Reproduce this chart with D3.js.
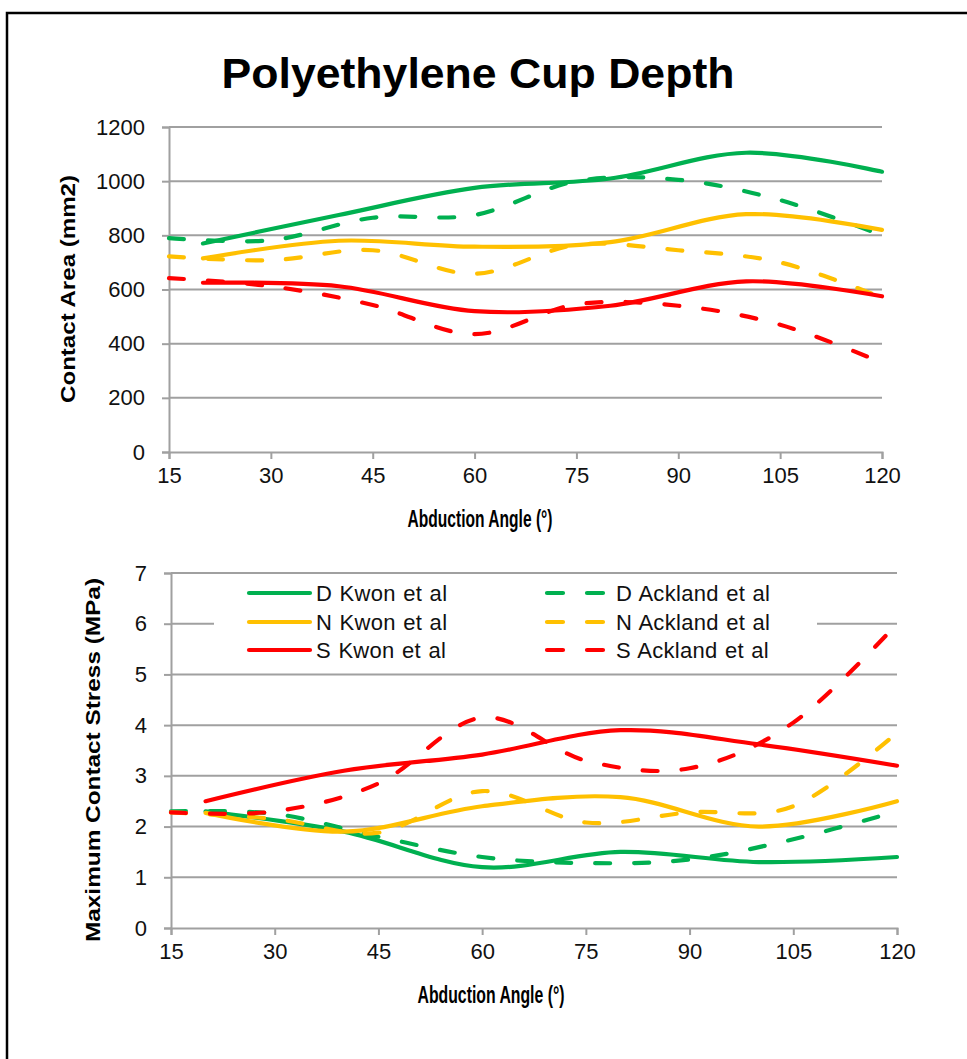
<!DOCTYPE html>
<html><head><meta charset="utf-8">
<script src="https://cdn.jsdelivr.net/npm/d3@7"></script>
<style>body{margin:0;background:#fff;overflow:hidden}</style>
</head><body>
<svg id="c" width="967" height="1059"></svg>
<script>
// ---- data ----
const xTicks = [15, 30, 45, 60, 75, 90, 105, 120];
const areaTicks = [0, 200, 400, 600, 800, 1000, 1200];
const stressTicks = [0, 1, 2, 3, 4, 5, 6, 7];
const kwonAngles = [20, 40, 60, 80, 100, 120];
const acklandAngles = [15, 30, 45, 60, 75, 90, 105, 120];

const areaDKwon = [770, 875, 975, 1010, 1105, 1035];
const areaDAckland = [790, 782, 865, 875, 1000, 1005, 930, 800];
const areaNKwon = [715, 780, 758, 775, 878, 820];
const areaNAckland = [722, 708, 745, 658, 765, 745, 700, 570];
const areaSKwon = [625, 612, 520, 540, 630, 575];
const areaSAckland = [642, 612, 543, 435, 545, 540, 470, 330];

const stressDKwon = [2.3, 1.9, 1.2, 1.5, 1.3, 1.4];
const stressDAckland = [2.3, 2.25, 1.8, 1.4, 1.28, 1.35, 1.75, 2.3];
const stressNKwon = [2.27, 1.9, 2.4, 2.58, 2.0, 2.5];
const stressNAckland = [2.28, 2.15, 1.88, 2.7, 2.08, 2.28, 2.4, 3.85];
const stressSKwon = [2.5, 3.1, 3.42, 3.9, 3.62, 3.2];
const stressSAckland = [2.28, 2.3, 2.85, 4.15, 3.3, 3.15, 4.05, 6.0];

const seriesNames = ["D Kwon et al", "D Ackland et al", "N Kwon et al", "N Ackland et al", "S Kwon et al", "S Ackland et al"];
const seriesColors = ["#00b050", "#00b050", "#ffc000", "#ffc000", "#ff0000", "#ff0000"];
const seriesDashed = [false, true, false, true, false, true];

// ---- drawing ----
const svg = d3.select("#c");
const FONT = "'Liberation Sans', Arial, sans-serif";
const GRID = "#a0a0a0";
const DASH = "15,24";

svg.append("rect").attr("x", 7).attr("y", 13).attr("width", 1000).attr("height", 1100)
  .attr("fill", "#fff").attr("stroke", "#000").attr("stroke-width", 2.5);

svg.append("text").attr("x", 478).attr("y", 88).attr("text-anchor", "middle")
  .attr("font-family", FONT).attr("font-weight", "bold").attr("font-size", 42)
  .attr("textLength", 513).attr("lengthAdjust", "spacingAndGlyphs")
  .text("Polyethylene Cup Depth");

function drawChart(cfg) {
  const x = d3.scaleLinear().domain([15, 120]).range([cfg.x0, cfg.x1]);
  const y = d3.scaleLinear().domain([0, cfg.yMax]).range([cfg.y0, cfg.y1]);
  const g = svg.append("g");

  // gridlines
  g.append("g").selectAll("line").data(cfg.yTicks.filter(d => d > 0)).join("line")
    .attr("x1", cfg.x0).attr("x2", cfg.x1).attr("y1", d => y(d)).attr("y2", d => y(d))
    .attr("stroke", GRID).attr("stroke-width", 2);

  const ya = g.append("g").attr("transform", `translate(${cfg.x0},0)`)
    .call(d3.axisLeft(y).tickValues(cfg.yTicks).tickSize(7).tickPadding(cfg.yPad).tickFormat(d3.format("d")));
  const xa = g.append("g").attr("transform", `translate(0,${cfg.y0})`)
    .call(d3.axisBottom(x).tickValues(xTicks).tickSize(7).tickPadding(8).tickFormat(d3.format("d")));
  [ya, xa].forEach(a => {
    a.select(".domain").attr("stroke", GRID).attr("stroke-width", 2);
    a.selectAll(".tick line").attr("stroke", GRID).attr("stroke-width", 2);
    a.selectAll("text").attr("font-family", FONT).attr("font-size", 22).attr("fill", "#111");
  });

  // axis titles
  g.append("text").attr("x", cfg.xtX).attr("y", cfg.xtY).attr("text-anchor", "middle")
    .attr("font-family", FONT).attr("font-weight", "bold").attr("font-size", 23)
    .attr("textLength", cfg.xtW).attr("lengthAdjust", "spacingAndGlyphs")
    .text("Abduction Angle (°)");
  g.append("text").attr("transform", `translate(${cfg.ytX},${cfg.ytY}) rotate(-90)`)
    .attr("text-anchor", "middle")
    .attr("font-family", FONT).attr("font-weight", "bold").attr("font-size", 21)
    .attr("textLength", cfg.ytW).attr("lengthAdjust", "spacingAndGlyphs")
    .text(cfg.yTitle);

  if (cfg.legend) cfg.legend(g);

  const line = d3.line().x(d => x(d[0])).y(d => y(d[1])).curve(d3.curveCardinal.tension(0));
  cfg.series.forEach((vals, i) => {
    const ang = seriesDashed[i] ? acklandAngles : kwonAngles;
    const pts = vals.map((v, j) => [ang[j], v]);
    g.append("path").attr("d", line(pts)).attr("fill", "none")
      .attr("stroke", seriesColors[i]).attr("stroke-width", 4.2)
      .attr("stroke-linecap", "round").attr("stroke-linejoin", "round")
      .attr("stroke-dasharray", seriesDashed[i] ? DASH : null);
  });
}

drawChart({
  x0: 169, x1: 882, y0: 452, y1: 127, yMax: 1200, yTicks: areaTicks, yPad: 17,
  xtX: 480, xtY: 527, xtW: 145,
  ytX: 75, ytY: 289, ytW: 228, yTitle: "Contact Area (mm2)",
  series: [areaDKwon, areaDAckland, areaNKwon, areaNAckland, areaSKwon, areaSAckland]
});

drawChart({
  x0: 171, x1: 897, y0: 928, y1: 573, yMax: 7, yTicks: stressTicks, yPad: 17,
  xtX: 491, xtY: 1003, xtW: 147,
  ytX: 100, ytY: 760, ytW: 364, yTitle: "Maximum Contact Stress (MPa)",
  series: [stressDKwon, stressDAckland, stressNKwon, stressNAckland, stressSKwon, stressSAckland],
  legend: g => {
    g.append("rect").attr("x", 214).attr("y", 580).attr("width", 603).attr("height", 86).attr("fill", "#fff");
    const rows = [593, 622, 650];
    seriesNames.forEach((name, i) => {
      const col = i % 2, row = Math.floor(i / 2);
      const lx = col === 0 ? 249 : 547, lw = col === 0 ? 61 : 56, tx = col === 0 ? 316 : 616;
      g.append("line").attr("x1", lx).attr("x2", lx + lw).attr("y1", rows[row]).attr("y2", rows[row])
        .attr("stroke", seriesColors[i]).attr("stroke-width", 4.2).attr("stroke-linecap", "round")
        .attr("stroke-dasharray", seriesDashed[i] ? "16,24" : null);
      g.append("text").attr("x", tx).attr("y", rows[row] + 8)
        .attr("font-family", FONT).attr("font-size", 22).attr("fill", "#111")
        .attr("word-spacing", 1).attr("letter-spacing", 0.3)
        .text(name);
    });
  }
});
</script>
</body></html>
